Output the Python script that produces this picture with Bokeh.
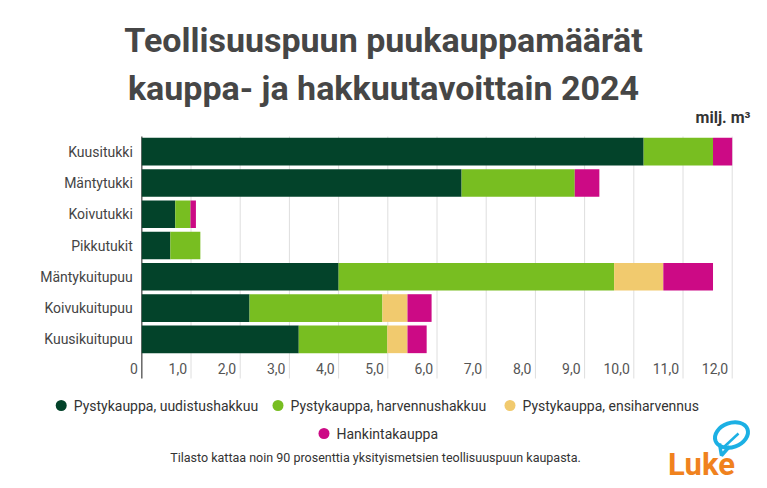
from bokeh.plotting import figure
from bokeh.models import Range1d, ColumnDataSource
from bokeh.core.properties import value
from bokeh.embed import file_html
from bokeh.resources import INLINE

# ---- data ----
categories = ["Kuusitukki", "Mäntytukki", "Koivutukki", "Pikkutukit",
              "Mäntykuitupuu", "Koivukuitupuu", "Kuusikuitupuu"]
uudistushakkuu = [10.2, 6.5, 0.68, 0.58, 4.0, 2.19, 3.19]
harvennushakkuu = [1.41, 2.30, 0.31, 0.61, 5.60, 2.70, 1.80]
ensiharvennus = [0.0, 0.0, 0.0, 0.0, 1.0, 0.51, 0.41]
hankintakauppa = [0.39, 0.50, 0.11, 0.0, 1.01, 0.49, 0.39]
series_names = ["Pystykauppa, uudistushakkuu", "Pystykauppa, harvennushakkuu",
                "Pystykauppa, ensiharvennus", "Hankintakauppa"]
colors = ["#03432a", "#78be21", "#f1ca6e", "#cc0a85"]
x_ticks = [0, 1, 2, 3, 4, 5, 6, 7, 8, 9, 10, 11, 12]
tick_labels = ["0", "1,0", "2,0", "3,0", "4,0", "5,0", "6,0", "7,0", "8,0",
               "9,0", "10,0", "11,0", "12,0"]
title_lines = ["Teollisuuspuun puukauppamäärät", "kauppa- ja hakkuutavoittain 2024"]
unit_label = "milj. m³"
footnote = "Tilasto kattaa noin 90 prosenttia yksityismetsien teollisuuspuun kaupasta."
logo_text = "Luke"

FONT = "Roboto"
W, H = 767, 488
# pixel layout of the value scale
PX0, PXU = 141.3, 49.2      # x pixel of value 0, pixels per unit
PY0, PYU = 151.2, 31.27     # y pixel of first category, pixels per category


def dx(px):
    return (px - PX0) / PXU


def dy(py):
    return (py - PY0) / PYU


p = figure(width=W, height=H, output_backend="svg", toolbar_location=None,
           x_range=Range1d(dx(0), dx(W)), y_range=Range1d(dy(H), dy(0)),
           x_axis_location=None, y_axis_location=None, title=None,
           min_border=0, min_border_left=0, min_border_right=0,
           min_border_top=0, min_border_bottom=0)
p.outline_line_color = None
p.background_fill_color = "white"
p.border_fill_color = "white"
p.grid.visible = False

y_top, y_bot = dy(136), dy(378)

# grid lines and axis line
p.segment(x0=x_ticks[1:], x1=x_ticks[1:], y0=[y_top] * 12, y1=[y_bot] * 12,
          line_color="#dedede", line_width=1)
p.segment(x0=[0], x1=[0], y0=[y_top], y1=[y_bot], line_color="#666666",
          line_width=1.5)

# bars
src = ColumnDataSource(dict(
    y=list(range(len(categories))),
    a=uudistushakkuu, b=harvennushakkuu, c=ensiharvennus, d=hankintakauppa,
))
p.hbar_stack(["a", "b", "c", "d"], y="y", height=0.885, color=colors,
             line_color=None, source=src)

# category labels
p.text(x=[0] * len(categories), y=list(range(len(categories))), text=categories,
       x_offset=-9, text_align="right", text_baseline="middle",
       text_font=value(FONT), text_font_size="14px", text_color="#444444")

# value tick labels (sit just left of their grid lines)
p.text(x=x_ticks, y=[dy(368)] * len(x_ticks), text=tick_labels, x_offset=-4,
       text_align="right", text_baseline="middle", text_font=value(FONT),
       text_font_size="14px", text_color="#555555")

# title
p.text(x=[dx(383)] * 2, y=[dy(39), dy(87)], text=title_lines,
       text_align="center", text_baseline="alphabetic", text_font=value(FONT),
       text_font_style="bold", text_font_size="34px", text_color="#464646")

p.text(x=[dx(750)], y=[dy(117)], text=[unit_label], text_align="right",
       text_baseline="middle", text_font=value(FONT), text_font_style="bold",
       text_font_size="16px", text_color="#333333")

# legend (manual: dots + labels)
dot_px = [60.7, 277.5, 509.5, 323.5]
dot_py = [405, 405, 405, 433]
p.scatter(x=[dx(v) for v in dot_px], y=[dy(v) for v in dot_py], marker="circle",
          size=11, fill_color=colors, line_color=None)
p.text(x=[dx(v + 12.5) for v in dot_px], y=[dy(v) for v in dot_py],
       text=series_names, text_align="left", text_baseline="middle",
       text_font=value(FONT), text_font_size="14px", text_color="#333333")

# footnote
p.text(x=[dx(375)], y=[dy(457)], text=[footnote], text_align="center",
       text_baseline="middle", text_font=value(FONT), text_font_size="12.5px",
       text_color="#333333")

# logo
p.text(x=[dx(701)], y=[dy(464)], text=[logo_text], text_align="center",
       text_baseline="middle", text_font=value(FONT), text_font_style="bold",
       text_font_size="31px", text_color="#f0821e")
p.ellipse(x=[dx(731)], y=[dy(434.5)], width=34, height=24, width_units="screen",
          height_units="screen", angle=0.35, fill_color=None,
          line_color="#1cb0e4", line_width=4)
p.line(x=[dx(719), dx(721), dx(729)], y=[dy(443), dy(455), dy(446)],
       line_color="#1cb0e4", line_width=3.5)
p.line(x=[dx(724), dx(738)], y=[dy(446), dy(433)], line_color="#1cb0e4",
       line_width=2.5)

open("out.html", "w").write(file_html(p, INLINE))
